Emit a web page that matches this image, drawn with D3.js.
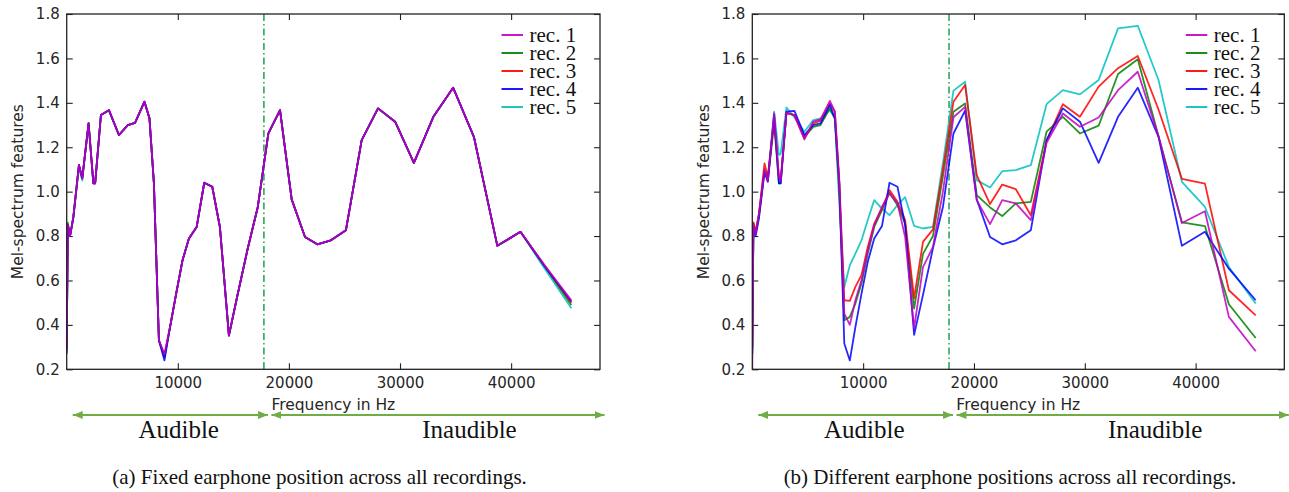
<!DOCTYPE html>
<html>
<head>
<meta charset="utf-8">
<script src="https://cdn.jsdelivr.net/npm/d3@7"></script>
<style>
  body { margin: 0; background: #fff; }
  svg { display: block; }
  .tick text { font-family: "DejaVu Sans", sans-serif; fill: #262626; }
  .tick line { stroke: #222; stroke-width: 1.1; }
</style>
</head>
<body>
<svg id="fig" width="1289" height="492"></svg>
<script>
// frequency bins (Hz) shared by every recording
var freqHz = [0, 100, 300, 600, 1100, 1400, 1970, 2400, 2560, 3080,
  3800, 4700, 5500, 6150, 7000, 7450, 7850, 8300, 8800, 9300,
  9850, 10420, 11000, 11700, 12380, 13100, 13790, 14600, 15400, 16300,
  17200, 18150, 19200, 20250, 21450, 22550, 23780, 25130, 26550, 28020,
  29560, 31250, 33000, 34780, 36650, 38760, 40840, 43000, 45420];

var recLabels = ["rec. 1", "rec. 2", "rec. 3", "rec. 4", "rec. 5"];
var recColors = ["#bf00bf", "#008000", "#ff0000", "#0000ff", "#00bfbf"];

// (a) fixed earphone position
var fixedRec1 = [0.28, 0.85, 0.80, 0.886, 1.12, 1.06, 1.307, 1.037, 1.037, 1.345,
  1.367, 1.255, 1.30, 1.31, 1.405, 1.33, 1.037, 0.33, 0.27, 0.39,
  0.54, 0.69, 0.789, 0.841, 1.04, 1.022, 0.841, 0.353, 0.54, 0.745,
  0.931, 1.262, 1.367, 0.965, 0.796, 0.763, 0.781, 0.826, 1.232, 1.375,
  1.315, 1.130, 1.337, 1.468, 1.247, 0.756, 0.819, 0.67, 0.511];
var fixedRec2 = [0.27, 0.86, 0.80, 0.886, 1.12, 1.06, 1.307, 1.037, 1.037, 1.345,
  1.367, 1.255, 1.30, 1.31, 1.405, 1.33, 1.037, 0.33, 0.255, 0.39,
  0.54, 0.69, 0.789, 0.841, 1.04, 1.022, 0.841, 0.353, 0.54, 0.745,
  0.931, 1.262, 1.367, 0.965, 0.796, 0.763, 0.781, 0.826, 1.232, 1.375,
  1.315, 1.130, 1.337, 1.468, 1.247, 0.756, 0.819, 0.665, 0.49];
var fixedRec3 = [0.30, 0.85, 0.80, 0.886, 1.12, 1.06, 1.307, 1.037, 1.037, 1.345,
  1.367, 1.255, 1.30, 1.31, 1.405, 1.33, 1.037, 0.33, 0.26, 0.39,
  0.54, 0.69, 0.789, 0.841, 1.04, 1.022, 0.841, 0.35, 0.54, 0.745,
  0.931, 1.262, 1.367, 0.965, 0.796, 0.763, 0.781, 0.826, 1.232, 1.375,
  1.315, 1.130, 1.337, 1.468, 1.247, 0.756, 0.819, 0.668, 0.50];
var fixedRec4 = [0.29, 0.85, 0.80, 0.886, 1.12, 1.06, 1.307, 1.037, 1.037, 1.345,
  1.367, 1.255, 1.30, 1.31, 1.405, 1.33, 1.037, 0.33, 0.24, 0.39,
  0.54, 0.69, 0.789, 0.841, 1.04, 1.022, 0.841, 0.353, 0.54, 0.745,
  0.931, 1.262, 1.367, 0.965, 0.796, 0.763, 0.781, 0.826, 1.232, 1.375,
  1.315, 1.130, 1.337, 1.468, 1.247, 0.756, 0.819, 0.665, 0.505];
var fixedRec5 = [0.27, 0.85, 0.80, 0.88, 1.11, 1.05, 1.31, 1.037, 1.037, 1.345,
  1.367, 1.255, 1.30, 1.31, 1.405, 1.33, 1.037, 0.33, 0.26, 0.39,
  0.54, 0.69, 0.789, 0.841, 1.04, 1.022, 0.841, 0.353, 0.54, 0.745,
  0.931, 1.262, 1.367, 0.965, 0.796, 0.763, 0.781, 0.826, 1.232, 1.375,
  1.315, 1.130, 1.337, 1.468, 1.247, 0.756, 0.819, 0.655, 0.475];

// (b) different earphone positions
var diffRec1 = [0.20, 0.85, 0.81, 0.90, 1.10, 1.045, 1.352, 1.067, 1.05, 1.355,
  1.345, 1.235, 1.315, 1.325, 1.409, 1.36, 1.04, 0.451, 0.40, 0.511,
  0.601, 0.736, 0.849, 0.932, 0.992, 0.947, 0.796, 0.385, 0.66, 0.751,
  1.00, 1.335, 1.382, 0.962, 0.854, 0.962, 0.947, 0.872, 1.22, 1.352,
  1.292, 1.334, 1.457, 1.540, 1.25, 0.859, 0.912, 0.436, 0.281];
var diffRec2 = [0.27, 0.86, 0.81, 0.89, 1.09, 1.05, 1.307, 1.037, 1.037, 1.355,
  1.345, 1.247, 1.292, 1.30, 1.375, 1.33, 1.00, 0.421, 0.436, 0.496,
  0.586, 0.721, 0.841, 0.917, 0.995, 0.939, 0.857, 0.473, 0.72, 0.80,
  1.07, 1.36, 1.397, 0.984, 0.929, 0.890, 0.947, 0.954, 1.27, 1.337,
  1.262, 1.297, 1.530, 1.596, 1.25, 0.862, 0.845, 0.493, 0.341];
var diffRec3 = [0.30, 0.86, 0.82, 0.90, 1.127, 1.067, 1.322, 1.067, 1.05, 1.355,
  1.345, 1.24, 1.307, 1.32, 1.397, 1.36, 1.05, 0.511, 0.508, 0.571,
  0.624, 0.751, 0.856, 0.924, 1.007, 0.954, 0.872, 0.52, 0.774, 0.830,
  1.10, 1.405, 1.48, 1.074, 0.944, 1.032, 1.011, 0.894, 1.23, 1.394,
  1.337, 1.473, 1.556, 1.611, 1.37, 1.058, 1.036, 0.556, 0.443];
var diffRec4 = [0.29, 0.84, 0.80, 0.88, 1.09, 1.045, 1.345, 1.037, 1.037, 1.36,
  1.364, 1.255, 1.30, 1.307, 1.39, 1.33, 1.037, 0.316, 0.24, 0.39,
  0.54, 0.684, 0.789, 0.845, 1.04, 1.022, 0.849, 0.355, 0.535, 0.745,
  0.931, 1.262, 1.365, 0.965, 0.796, 0.763, 0.781, 0.826, 1.232, 1.375,
  1.315, 1.130, 1.337, 1.468, 1.247, 0.756, 0.819, 0.653, 0.511];
var diffRec5 = [0.27, 0.85, 0.82, 0.90, 1.097, 1.06, 1.36, 1.165, 1.17, 1.379,
  1.335, 1.27, 1.322, 1.33, 1.367, 1.33, 0.95, 0.571, 0.669, 0.721,
  0.781, 0.872, 0.962, 0.924, 0.894, 0.94, 0.975, 0.846, 0.834, 0.841,
  1.13, 1.455, 1.495, 1.052, 1.019, 1.092, 1.097, 1.119, 1.394, 1.457,
  1.438, 1.503, 1.735, 1.747, 1.503, 1.044, 0.931, 0.661, 0.496];

var xTicks = [10000, 20000, 30000, 40000];
var yTicks = [0.2, 0.4, 0.6, 0.8, 1.0, 1.2, 1.4, 1.6, 1.8];
var boundaryHz = 17750;

var svg = d3.select("#fig");

var panels = [
  { left: 66.7, right: 600, series: [fixedRec1, fixedRec2, fixedRec3, fixedRec4, fixedRec5],
    caption: "(a) Fixed earphone position across all recordings.", captionX: 319.5 },
  { left: 752.3, right: 1284.3, series: [diffRec1, diffRec2, diffRec3, diffRec4, diffRec5],
    caption: "(b) Different earphone positions across all recordings.", captionX: 1010 }
];

var TOP = 14, BOTTOM = 369.3;
var TICK = 6;
// draw order: cyan first, magenta last (it shows on top where they overlap)
var DRAW_ORDER = [4, 1, 2, 3, 0];

var defs = svg.append("defs");
defs.append("marker")
    .attr("id", "head")
    .attr("markerUnits", "userSpaceOnUse")
    .attr("viewBox", "0 0 10 8")
    .attr("refX", 10).attr("refY", 4)
    .attr("markerWidth", 10).attr("markerHeight", 8)
    .attr("orient", "auto-start-reverse")
  .append("path")
    .attr("d", "M0 0 L10 4 L0 8 Z")
    .attr("fill", "#70ad47");

panels.forEach(function (p, pi) {
    var g = svg.append("g");

    var x = d3.scaleLinear().domain([0, 48000]).range([p.left, p.right]);
    var y = d3.scaleLinear().domain([0.2, 1.8]).range([BOTTOM, TOP]);

    g.append("clipPath").attr("id", "clip" + pi)
      .append("rect")
        .attr("x", p.left).attr("y", TOP)
        .attr("width", p.right - p.left).attr("height", BOTTOM - TOP);

    // axes: inward ticks on all four sides
    g.append("g").attr("transform", "translate(0," + BOTTOM + ")")
        .call(d3.axisBottom(x).tickValues(xTicks).tickFormat(d3.format("d"))
            .tickSizeInner(-TICK).tickSizeOuter(0).tickPadding(8.5))
        .call(function (a) { a.select(".domain").remove(); })
        .selectAll("text").style("font-size", "15px");
    g.append("g").attr("transform", "translate(0," + TOP + ")")
        .call(d3.axisTop(x).tickValues(xTicks).tickFormat("")
            .tickSizeInner(-TICK).tickSizeOuter(0))
        .call(function (a) { a.select(".domain").remove(); });
    g.append("g").attr("transform", "translate(" + p.left + ",0)")
        .call(d3.axisLeft(y).tickValues(yTicks).tickFormat(d3.format(".1f"))
            .tickSizeInner(-TICK).tickSizeOuter(0).tickPadding(7))
        .call(function (a) { a.select(".domain").remove(); })
        .selectAll("text").style("font-size", "15px");
    g.append("g").attr("transform", "translate(" + p.right + ",0)")
        .call(d3.axisRight(y).tickValues(yTicks).tickFormat("")
            .tickSizeInner(-TICK).tickSizeOuter(0))
        .call(function (a) { a.select(".domain").remove(); });

    // audible / inaudible boundary
    g.append("line")
        .attr("x1", x(boundaryHz)).attr("x2", x(boundaryHz))
        .attr("y1", TOP).attr("y2", BOTTOM)
        .attr("stroke", "#22a050").attr("stroke-width", 1.5)
        .attr("stroke-dasharray", "7,3,1.5,3");

    var line = d3.line()
        .x(function (d) { return x(d[0]); })
        .y(function (d) { return y(d[1]); });

    var lines = g.append("g").attr("clip-path", "url(#clip" + pi + ")");
    DRAW_ORDER.forEach(function (k) {
        lines.append("path")
            .datum(d3.zip(freqHz, p.series[k]))
            .attr("d", line)
            .attr("fill", "none")
            .attr("stroke", recColors[k])
            .attr("stroke-opacity", 0.85)
            .attr("stroke-width", 1.8)
            .attr("stroke-linejoin", "round");
    });

    // frame
    g.append("rect")
        .attr("x", p.left).attr("y", TOP)
        .attr("width", p.right - p.left).attr("height", BOTTOM - TOP)
        .attr("fill", "none").attr("stroke", "#222").attr("stroke-width", 1.3);

    // legend
    var leg = g.append("g").selectAll("g").data(recLabels).join("g")
        .attr("transform", function (d, i) { return "translate(" + (p.right - 98.5) + "," + (35 + 18 * i) + ")"; });
    leg.append("line")
        .attr("x1", 0).attr("x2", 21.5)
        .attr("stroke", function (d, i) { return recColors[i]; })
        .attr("stroke-width", 1.8);
    leg.append("text")
        .attr("x", 28).attr("y", 6.8)
        .style("font-family", "'Liberation Serif', 'Times New Roman', serif")
        .style("font-size", "21px").attr("fill", "#111")
        .text(function (d) { return d; });

    // axis labels
    g.append("text")
        .attr("transform", "translate(" + (p.left - 49) + "," + ((TOP + BOTTOM) / 2) + ") rotate(-90)")
        .attr("text-anchor", "middle").attr("dy", "0.35em")
        .style("font-family", "'DejaVu Sans', sans-serif").style("font-size", "15.5px")
        .attr("fill", "#262626")
        .text("Mel-spectrum features");
    g.append("text")
        .attr("x", (p.left + p.right) / 2).attr("y", 409.5)
        .attr("text-anchor", "middle")
        .style("font-family", "'DejaVu Sans', sans-serif").style("font-size", "15.5px")
        .attr("fill", "#262626")
        .text("Frequency in Hz");

    // audible / inaudible arrows
    var ay = 415;
    var xb = x(boundaryHz);
    [[p.left + 6, xb + 4], [xb + 7.5, p.right + 4.5]].forEach(function (s) {
        g.append("line")
            .attr("x1", s[0]).attr("x2", s[1]).attr("y1", ay).attr("y2", ay)
            .attr("stroke", "#70ad47").attr("stroke-width", 2)
            .attr("marker-start", "url(#head)").attr("marker-end", "url(#head)");
    });
    var serif = "'Liberation Serif', 'Times New Roman', serif";
    g.append("text").attr("x", p.left + 112).attr("y", 437.7)
        .attr("text-anchor", "middle").style("font-family", serif).style("font-size", "25px")
        .attr("fill", "#111").text("Audible");
    g.append("text").attr("x", p.left + 402.8).attr("y", 437.7)
        .attr("text-anchor", "middle").style("font-family", serif).style("font-size", "25px")
        .attr("fill", "#111").text("Inaudible");

    g.append("text").attr("x", p.captionX).attr("y", 484)
        .attr("text-anchor", "middle").style("font-family", serif).style("font-size", "21px")
        .attr("fill", "#111").text(p.caption);
});
</script>
</body>
</html>
